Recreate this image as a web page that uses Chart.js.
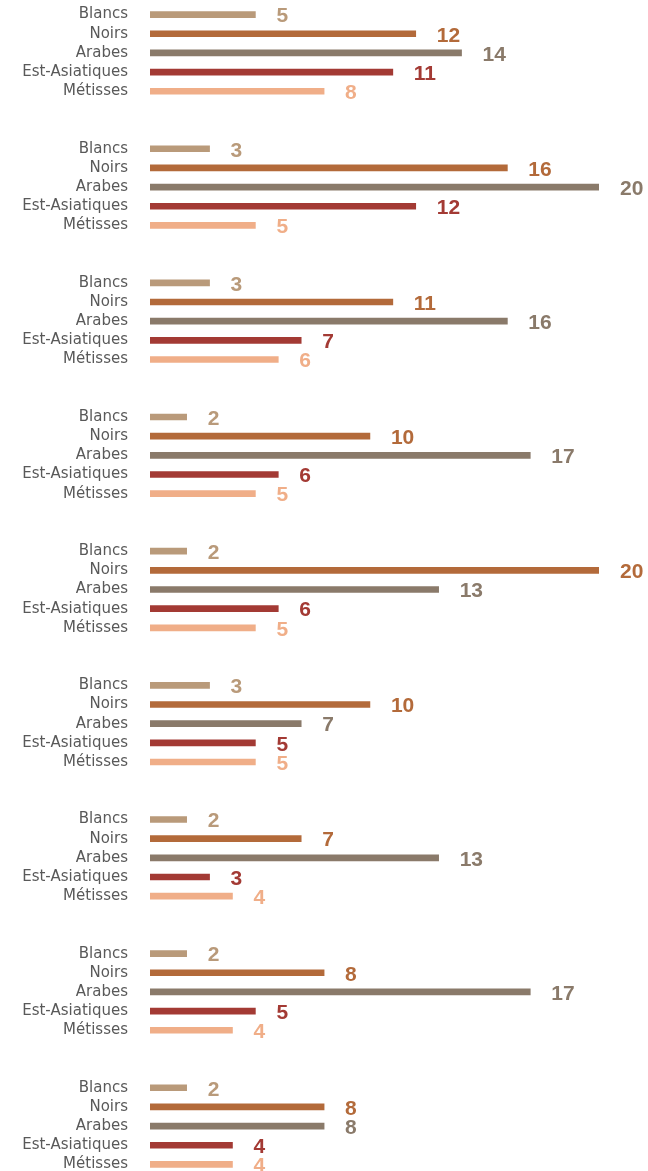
<!DOCTYPE html>
<html>
<head>
<meta charset="utf-8">
<script src="https://cdn.jsdelivr.net/npm/chart.js@4"></script>
<style>
  body { margin: 0; background: #fff; overflow: hidden; }
</style>
</head>
<body>
<canvas id="chart" width="648" height="1174"></canvas>
<script>
// one value per group (9 groups, top to bottom)
let groups = ["Blancs", "Noirs", "Arabes", "Est-Asiatiques", "Métisses"];
let blancs = [5, 3, 3, 2, 2, 3, 2, 2, 2];
let noirs = [12, 16, 11, 10, 20, 10, 7, 8, 8];
let arabes = [14, 20, 16, 17, 13, 7, 13, 17, 8];
let estAsiatiques = [11, 12, 7, 6, 6, 5, 3, 5, 4];
let metisses = [8, 5, 6, 5, 5, 5, 4, 4, 4];
let colors = ["#B99A7A", "#B36A3A", "#8A7A6A", "#A33A34", "#F0AE88"];

let series = [blancs, noirs, arabes, estAsiatiques, metisses];
let labels = [];
let values = [];
let barColors = [];
for (let g = 0; g < blancs.length; g++) {
  if (g > 0) {
    // two empty rows between groups
    labels.push("", "");
    values.push(null, null);
    barColors.push("transparent", "transparent");
  }
  for (let i = 0; i < groups.length; i++) {
    labels.push(groups[i]);
    values.push(series[i][g]);
    barColors.push(colors[i]);
  }
}

const valueLabels = {
  id: "valueLabels",
  afterDatasetsDraw(chart) {
    let c = chart.ctx;
    let meta = chart.getDatasetMeta(0);
    c.save();
    c.font = "bold 21px 'Liberation Sans', Arial, sans-serif";
    c.textBaseline = "middle";
    c.textAlign = "left";
    meta.data.forEach((bar, i) => {
      let v = values[i];
      if (v == null) return;
      c.fillStyle = barColors[i];
      c.fillText(v, bar.x + 21, bar.y + 2);
    });
    c.restore();
  },
};

var ctx = document.getElementById("chart").getContext("2d");
var chart = new Chart(ctx, {
  type: "bar",
  data: {
    labels: labels,
    datasets: [
      {
        data: values,
        backgroundColor: barColors,
        barThickness: 6,
        clip: { left: 0, right: 0, top: 10, bottom: 10 },
      },
    ],
  },
  options: {
    indexAxis: "y",
    responsive: false,
    animation: false,
    layout: { padding: { top: 5, bottom: 0, right: 49, left: 0 } },
    plugins: { legend: { display: false }, tooltip: { enabled: false } },
    scales: {
      x: {
        display: false,
        min: 0.4, // the bars start a little past zero in the original
        max: 20,
      },
      y: {
        grid: { display: false, drawTicks: false },
        border: { display: false },
        ticks: {
          autoSkip: false,
          padding: 22,
          color: "#595959",
          font: { family: "'DejaVu Sans', sans-serif", size: 15 },
        },
        afterFit: (scale) => {
          scale.width = 150;
          scale.paddingTop = 0;
          scale.paddingBottom = 0;
        },
      },
    },
  },
  plugins: [valueLabels],
});
</script>
</body>
</html>
